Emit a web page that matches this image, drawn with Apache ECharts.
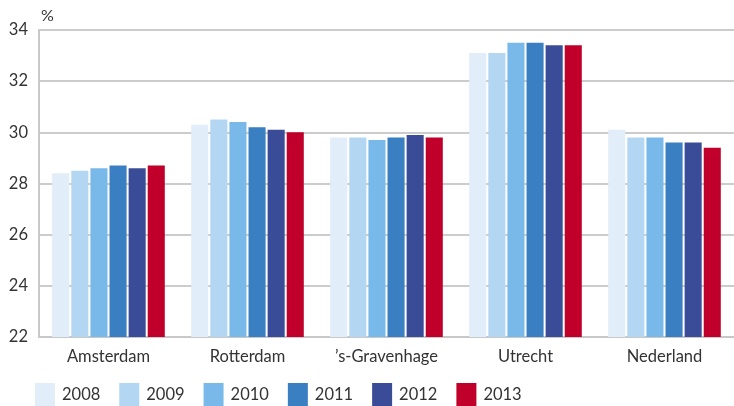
<!DOCTYPE html>
<html>
<head>
<meta charset="utf-8">
<script src="https://cdn.jsdelivr.net/npm/echarts@6/dist/echarts.min.js"></script>
<style>
  html, body { margin: 0; padding: 0; background: #fff; }
  #main { width: 734px; height: 406px; }
</style>
</head>
<body>
<div id="main"></div>
<script>
const categories = ['Amsterdam', 'Rotterdam', '\u2019s-Gravenhage', 'Utrecht', 'Nederland']
const years = ['2008', '2009', '2010', '2011', '2012', '2013']
const v2008 = [28.4, 30.3, 29.8, 33.1, 30.1]
const v2009 = [28.5, 30.5, 29.8, 33.1, 29.8]
const v2010 = [28.6, 30.4, 29.7, 33.5, 29.8]
const v2011 = [28.7, 30.2, 29.8, 33.5, 29.6]
const v2012 = [28.6, 30.1, 29.9, 33.4, 29.6]
const v2013 = [28.7, 30.0, 29.8, 33.4, 29.4]
const yTicks = [22, 24, 26, 28, 30, 32, 34]

const values = [v2008, v2009, v2010, v2011, v2012, v2013]
const colors = ['#e1edf9', '#b3d6f3', '#78b9ea', '#3a7fc1', '#3a4c98', '#c0002a']

var myChart = echarts.init(document.getElementById('main'))

var option = {
  color: colors,
  textStyle: { fontFamily: 'Lato, "Open Sans", sans-serif', color: '#333' },
  grid: {
    left: 39,
    right: 0,
    top: 30,
    bottom: 69
  },
  legend: {
    data: years,
    left: 30,
    bottom: -6,
    itemWidth: 20,
    itemHeight: 24,
    itemGap: 19,
    icon: 'rect',
    textStyle: { fontSize: 16.5, color: '#333', padding: [10, 0, 0, 2] }
  },
  xAxis: {
    type: 'category',
    data: categories,
    axisLine: { lineStyle: { color: '#c8c8c8', width: 2 } },
    axisTick: { show: false },
    axisLabel: { fontSize: 16.5, color: '#333', margin: 11 }
  },
  yAxis: {
    type: 'value',
    name: '%',
    nameLocation: 'end',
    nameGap: 6,
    nameTextStyle: { fontSize: 16, color: '#333', align: 'left', padding: [0, 0, 0, 2] },
    min: yTicks[0],
    max: yTicks[yTicks.length - 1],
    interval: 2,
    axisLine: { show: true, lineStyle: { color: '#c8c8c8', width: 2 } },
    axisTick: { show: false },
    axisLabel: { fontSize: 16.5, color: '#333', margin: 11 },
    splitLine: { lineStyle: { color: '#cccccc', width: 2 } }
  },
  series: years.map(function (y, i) {
    return {
      name: y,
      type: 'bar',
      data: values[i],
      barGap: '12%',
      barCategoryGap: '19%'
    }
  })
}

myChart.setOption(option)
</script>
</body>
</html>
